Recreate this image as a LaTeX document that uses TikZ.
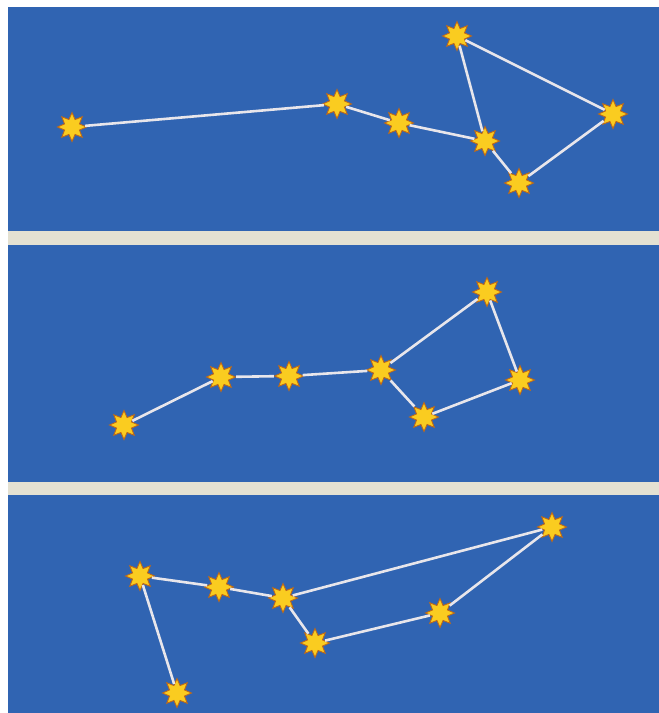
\documentclass[tikz,border=0pt]{standalone}
\usetikzlibrary{shapes.geometric}
\definecolor{sky}{RGB}{48,100,178}
\definecolor{cream}{RGB}{228,225,210}
\definecolor{staryel}{RGB}{250,204,32}
\definecolor{starrim}{RGB}{190,105,25}
\definecolor{linec}{RGB}{232,230,235}
\tikzset{
  starnode/.style={star, star points=8, star point ratio=1.8, minimum size=29pt, inner sep=0pt,
    fill=staryel, draw=starrim, line width=0.9pt},
  link/.style={draw=linec, line width=2.6pt}
}
\begin{document}
\begin{tikzpicture}[x=1pt,y=-1pt]
\useasboundingbox (0,0) rectangle (659,713);
\fill[white] (0,0) rectangle (659,713);
\fill[sky] (8,7) rectangle (659,713);
\fill[cream] (8,231) rectangle (659,245);
\fill[cream] (8,482) rectangle (659,495);
% panel 1
\node[starnode] (A) at (72,127) {};
\node[starnode] (B) at (337,104) {};
\node[starnode] (C) at (399,123) {};
\node[starnode] (D) at (485,141) {};
\node[starnode] (E) at (457,36) {};
\node[starnode] (F) at (613,114) {};
\node[starnode] (G) at (519,183) {};
\draw[link] (A) -- (B);
\draw[link] (B) -- (C);
\draw[link] (C) -- (D);
\draw[link] (D) -- (E);
\draw[link] (E) -- (F);
\draw[link] (F) -- (G);
\draw[link] (G) -- (D);
% panel 2
\node[starnode] (a) at (124,425) {};
\node[starnode] (b) at (221,377) {};
\node[starnode] (c) at (289,376) {};
\node[starnode] (d) at (381,370) {};
\node[starnode] (e) at (487,292) {};
\node[starnode] (f) at (520,380) {};
\node[starnode] (g) at (424,417) {};
\draw[link] (a) -- (b);
\draw[link] (b) -- (c);
\draw[link] (c) -- (d);
\draw[link] (d) -- (e);
\draw[link] (e) -- (f);
\draw[link] (f) -- (g);
\draw[link] (g) -- (d);
% panel 3
\node[starnode] (p) at (140,576) {};
\node[starnode] (q) at (219,587) {};
\node[starnode] (r) at (283,598) {};
\node[starnode] (s) at (552,527) {};
\node[starnode] (t) at (440,613) {};
\node[starnode] (u) at (315,643) {};
\node[starnode] (v) at (177,693) {};
\draw[link] (v) -- (p);
\draw[link] (p) -- (q);
\draw[link] (q) -- (r);
\draw[link] (r) -- (s);
\draw[link] (s) -- (t);
\draw[link] (t) -- (u);
\draw[link] (u) -- (r);
\end{tikzpicture}
\end{document}
